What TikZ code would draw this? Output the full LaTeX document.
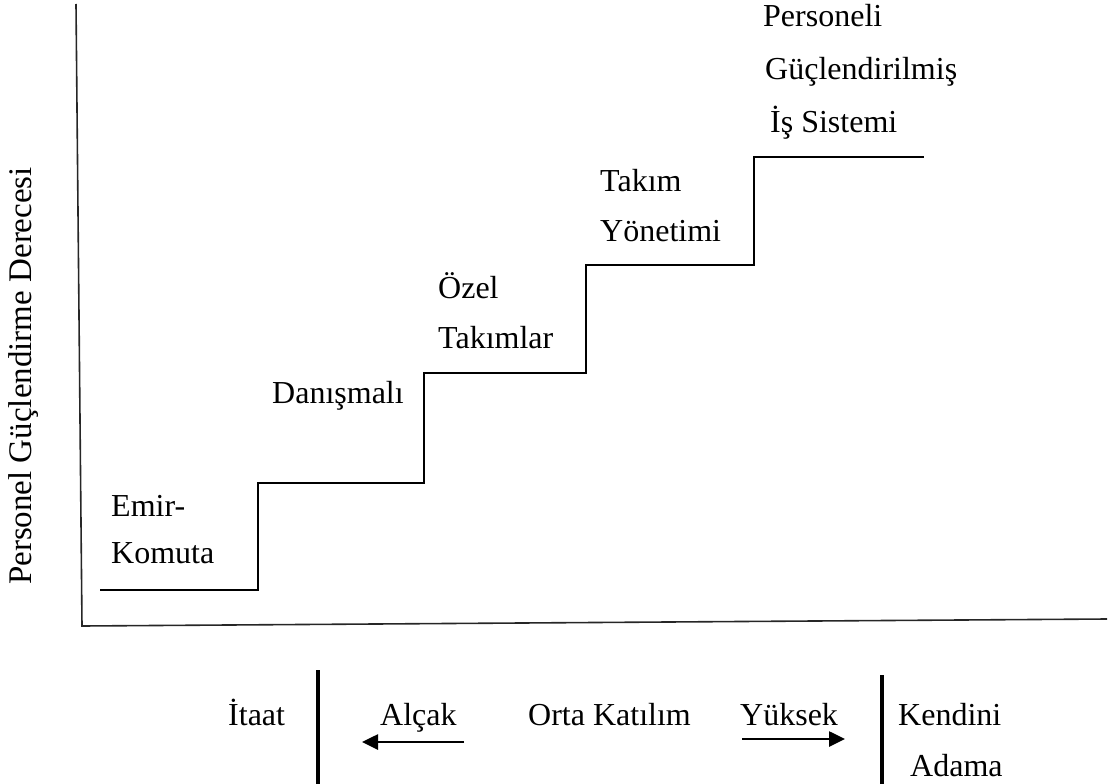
\documentclass[tikz,border=0pt]{standalone}
\usepackage{fontspec}
\setmainfont{Liberation Serif}
\usetikzlibrary{arrows.meta}
\begin{document}
\begin{tikzpicture}[x=1pt,y=-1pt,
  lbl/.style={anchor=base west,inner sep=0pt,font=\fontsize{32}{38}\selectfont},
  axisline/.style={line width=1.6pt,draw=black!85},
  stair/.style={line width=2.6pt},
  bar/.style={line width=3.6pt},
  arr/.style={line width=2.6pt,-{Triangle[length=16pt,width=15pt]}}]
\useasboundingbox (0,0) rectangle (1114,784);
% axes
\coordinate (ytop) at (76,4);
\coordinate (orig) at (82,626);
\coordinate (xend) at (1107,619);
\draw[axisline] (ytop) -- (orig) -- (xend);
% staircase
\coordinate (s0) at (100,590);
\coordinate (s1) at (258,590);
\coordinate (s2) at (258,483);
\coordinate (s3) at (424,483);
\coordinate (s4) at (424,373);
\coordinate (s5) at (586,373);
\coordinate (s6) at (586,265);
\coordinate (s7) at (754,265);
\coordinate (s8) at (754,157);
\coordinate (s9) at (924,157);
\draw[stair] (s0) -- (s1) -- (s2) -- (s3) -- (s4) -- (s5) -- (s6) -- (s7) -- (s8) -- (s9);
% y label
\node[rotate=90,anchor=base,inner sep=0pt,font=\fontsize{33}{38}\selectfont] (ylab) at (31,376) {Personel Güçlendirme Derecesi};
% step labels
\node[lbl] (em1) at (111,516) {Emir-};
\node[lbl] (em2) at (111,563) {Komuta};
\node[lbl] (dan) at (272,403) {Danışmalı};
\node[lbl] (oz1) at (438,298) {Özel};
\node[lbl] (oz2) at (438,348) {Takımlar};
\node[lbl] (ty1) at (600,191) {Takım};
\node[lbl] (ty2) at (600,241) {Yönetimi};
\node[lbl] (pg1) at (763,27) {Personeli};
\node[lbl] (pg2) at (765,80) {Güçlendirilmiş};
\node[lbl] (pg3) at (770,132) {İş Sistemi};
% bottom scale
\node[lbl] (itaat) at (228,725) {İtaat};
\coordinate (b1t) at (318,670);
\coordinate (b1b) at (318,784);
\draw[bar] (b1t) -- (b1b);
\node[lbl] (alcak) at (380,725) {Alçak};
\coordinate (a1s) at (464,742);
\coordinate (a1e) at (362,742);
\draw[arr] (a1s) -- (a1e);
\node[lbl] (orta) at (528,725) {Orta Katılım};
\node[lbl] (yuk) at (740,725) {Yüksek};
\coordinate (a2s) at (742,739);
\coordinate (a2e) at (845,739);
\draw[arr] (a2s) -- (a2e);
\coordinate (b2t) at (882,675);
\coordinate (b2b) at (882,784);
\draw[bar] (b2t) -- (b2b);
\node[lbl] (ken) at (898,725) {Kendini};
\node[lbl] (ada) at (910,776) {Adama};
\end{tikzpicture}
\end{document}
